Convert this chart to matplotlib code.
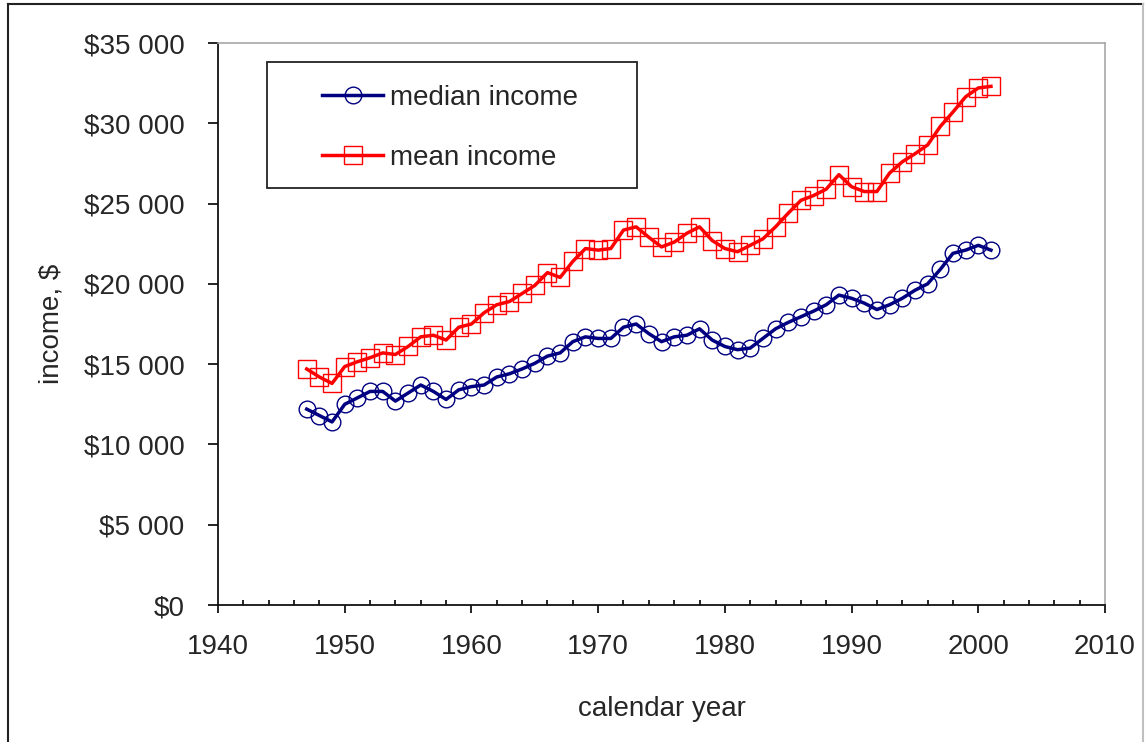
import matplotlib
matplotlib.use("Agg")
import matplotlib.pyplot as plt
from matplotlib.lines import Line2D
from matplotlib.patches import Rectangle
from matplotlib.ticker import FuncFormatter, MultipleLocator

years = list(range(1947, 2002))

median_income = [
    12200, 11800, 11400, 12500, 12900, 13300, 13300, 12700, 13200, 13700,
    13300, 12800, 13400, 13600, 13700, 14200, 14400, 14700, 15050, 15500,
    15700, 16400, 16700, 16600, 16600, 17300, 17500, 16900, 16400, 16700,
    16800, 17200, 16500, 16100, 15900, 16000, 16600, 17200, 17600, 17950,
    18300, 18700, 19300, 19100, 18800, 18400, 18700, 19100, 19600, 20000,
    20900, 21900, 22100, 22400, 22100,
]

mean_income = [
    14700, 14200, 13800, 14850, 15150, 15400, 15700, 15600, 16100, 16700,
    16800, 16500, 17300, 17500, 18200, 18700, 18900, 19400, 19900, 20700,
    20400, 21400, 22200, 22100, 22200, 23350, 23550, 22900, 22300, 22600,
    23150, 23550, 22700, 22200, 22000, 22400, 22800, 23550, 24400, 25200,
    25500, 25900, 26800, 26050, 25750, 25750, 26900, 27600, 28100, 28650,
    29800, 30700, 31650, 32200, 32300,
]

W, H = 1146, 742
fig = plt.figure(figsize=(W / 100, H / 100), dpi=100)
plt.rcParams['font.family'] = ['Liberation Sans', 'DejaVu Sans']
txt = '#262626'

# plot area placed in pixels
x0, x1, ytop, ybot = 218, 1105, 43, 605
ax = fig.add_axes([x0 / W, 1 - ybot / H, (x1 - x0) / W, (ybot - ytop) / H])

ax.plot(years, median_income, color='#000080', lw=2.5, marker='o', ms=12,
        mfc='none', mec='#000080', mew=1.0, label='median income')
ax.plot(years, mean_income, color='#ff0000', lw=2.5, marker='s', ms=13,
        mfc='none', mec='#ff0000', mew=1.0, label='mean income')

ax.set_xlim(1940, 2010)
ax.set_ylim(0, 35000)
ax.xaxis.set_major_locator(MultipleLocator(10))
ax.xaxis.set_minor_locator(MultipleLocator(2))
ax.yaxis.set_major_locator(MultipleLocator(5000))
ax.yaxis.set_major_formatter(FuncFormatter(lambda v, p: '$' + f'{int(v):,}'.replace(',', ' ')))

ax.tick_params(axis='y', which='major', direction='out', length=7, width=1.2,
               pad=17, labelsize=20, labelcolor=txt)
ax.tick_params(axis='x', which='major', direction='out', length=6, width=1.2,
               pad=15, labelsize=20, labelcolor=txt)
ax.tick_params(axis='x', which='minor', direction='in', length=3.5, width=1.2)

for s in ['left', 'bottom']:
    ax.spines[s].set_color('#111111')
    ax.spines[s].set_linewidth(1.3)
for s in ['top', 'right']:
    ax.spines[s].set_color('#a8a8a8')
    ax.spines[s].set_linewidth(1.2)

ax.set_xlabel('calendar year', fontsize=20, color=txt, labelpad=26)
ax.set_ylabel('income, $', fontsize=20, color=txt, labelpad=14)

# legend frame drawn in axes fraction, legend itself without frame
def axx(px):
    return (px - x0) / (x1 - x0)

def axy(py):
    return (ybot - py) / (ybot - ytop)

ax.add_patch(Rectangle((axx(267), axy(188)), axx(637) - axx(267), axy(62) - axy(188),
                       transform=ax.transAxes, fill=False, ec='#222222', lw=1.3,
                       zorder=5, clip_on=False))
ax.legend(loc='upper left', bbox_to_anchor=(axx(322), axy(85)), frameon=False,
          fontsize=20, borderpad=0, borderaxespad=0, handlelength=2.2,
          handletextpad=0.25, labelspacing=1.22, labelcolor=txt)

# outer frame of the picture
fig.add_artist(Line2D([8 / W, 8 / W], [0, 1 - 4 / H], transform=fig.transFigure,
                      color='#222222', lw=1.5))
fig.add_artist(Line2D([8 / W, 1143 / W], [1 - 4 / H, 1 - 4 / H], transform=fig.transFigure,
                      color='#222222', lw=1.5))
fig.add_artist(Line2D([1143 / W, 1143 / W], [0, 1 - 4 / H], transform=fig.transFigure,
                      color='#c0c0c0', lw=1.5))

fig.savefig('out.png', dpi=100)
